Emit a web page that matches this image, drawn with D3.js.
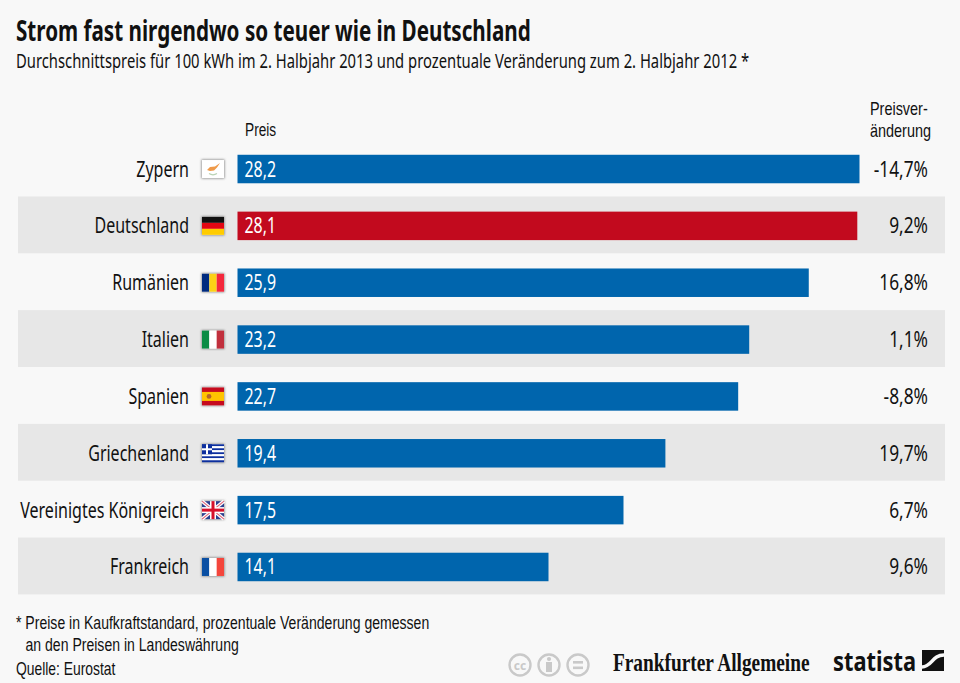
<!DOCTYPE html>
<html lang="de">
<head>
<meta charset="utf-8">
<script src="https://cdn.jsdelivr.net/npm/d3@7"></script>
<style>
  html, body { margin: 0; padding: 0; background: #f8f8f8; }
  svg { display: block; }
  text { font-family: "Noto Sans", sans-serif; fill: #111; }
</style>
</head>
<body>
<div id="chart"></div>
<script>
const countries = ['Zypern', 'Deutschland', 'Rumänien', 'Italien', 'Spanien', 'Griechenland', 'Vereinigtes Königreich', 'Frankreich'];
const prices = [28.2, 28.1, 25.9, 23.2, 22.7, 19.4, 17.5, 14.1];
const changes = ['-14,7%', '9,2%', '16,8%', '1,1%', '-8,8%', '19,7%', '6,7%', '9,6%'];
const highlighted = 'Deutschland';

const title = 'Strom fast nirgendwo so teuer wie in Deutschland';
const subtitle = 'Durchschnittspreis für 100 kWh im 2. Halbjahr 2013 und prozentuale Veränderung zum 2. Halbjahr 2012 *';
const footnotes = ['* Preise in Kaufkraftstandard, prozentuale Veränderung gemessen', 'an den Preisen in Landeswährung'];
const source = 'Quelle: Eurostat';

const width = 960;
const height = 683;

const svg = d3.select('#chart')
  .append('svg')
  .attr('width', width)
  .attr('height', height);

svg.append('rect')
  .attr('width', width)
  .attr('height', height)
  .attr('fill', '#f8f8f8');

// the original type is a condensed face, so squeeze the installed one horizontally
const addText = (txt, x, y, size, factor, anchor = 'start', weight = 400) =>
  svg.append('text')
    .attr('transform', `translate(${x},${y}) scale(${factor},1)`)
    .attr('text-anchor', anchor)
    .style('font-size', `${size}px`)
    .style('font-weight', weight)
    .text(txt);

// tightly set two-line notes need a face with a shorter line box
const addNote = (txt, x, y, factor) =>
  addText(txt, x, y, 18.5, factor).style('font-family', '"Liberation Sans", sans-serif');

// Scales
const x = d3.scaleLinear().domain([0, 28.2]).range([237.5, 859.5]);
const y = d3.scaleBand().domain(countries).range([139.6, 594.4]);
const barHeight = 28.5;
const barTop = d => y(d) + (y.bandwidth() - barHeight) / 2 + 1;

// Alternating row backgrounds
svg.append('g')
  .selectAll('rect')
  .data(countries.filter((d, i) => i % 2 === 1))
  .join('rect')
  .attr('x', 18)
  .attr('y', d => y(d))
  .attr('width', 927)
  .attr('height', y.bandwidth())
  .attr('fill', '#e7e7e7');

// Bars
svg.append('g')
  .selectAll('rect')
  .data(countries)
  .join('rect')
  .attr('x', x(0))
  .attr('y', barTop)
  .attr('width', (d, i) => x(prices[i]) - x(0))
  .attr('height', barHeight)
  .attr('fill', d => d === highlighted ? '#c20a1e' : '#0065ad');

// Labels in each row
countries.forEach((d, i) => {
  const mid = barTop(d) + barHeight / 2 + 7.5;
  addText(d, 189, mid, 22.5, 0.712, 'end');
  addText(String(prices[i]).replace('.', ','), 244.5, mid, 22.5, 0.707).style('fill', '#fff');
  addText(changes[i], 928, mid, 22.5, 0.77, 'end');
});

// Flags
const flagW = 22;
const flagH = 18;
const stripes = {
  'Deutschland': { dir: 'h', colors: ['#111111', '#e30613', '#ffcc00'] },
  'Rumänien': { dir: 'v', colors: ['#002b7f', '#fcd116', '#f4283c'] },
  'Italien': { dir: 'v', colors: ['#0b8c45', '#ffffff', '#c1303d'] },
  'Frankreich': { dir: 'v', colors: ['#0a4fa3', '#ffffff', '#f4463c'] }
};

const flags = svg.append('g');
const defs = svg.append('defs');
const blur = defs.append('filter').attr('id', 'flag-shadow');
blur.append('feGaussianBlur').attr('stdDeviation', 1.2);

countries.forEach(d => {
  const fx = 202;
  const fy = barTop(d) + barHeight / 2 - flagH / 2;
  const flag = flags.append('g').attr('transform', `translate(${fx},${fy})`);

  flag.append('rect')
    .attr('x', -0.5).attr('y', -0.5)
    .attr('width', flagW + 1).attr('height', flagH + 1)
    .attr('fill', '#888')
    .attr('filter', 'url(#flag-shadow)');
  flag.append('rect')
    .attr('width', flagW).attr('height', flagH)
    .attr('fill', '#fff');

  if (stripes[d]) {
    const { dir, colors } = stripes[d];
    colors.forEach((c, i) => {
      flag.append('rect')
        .attr('x', dir === 'v' ? i * flagW / 3 : 0)
        .attr('y', dir === 'h' ? i * flagH / 3 : 0)
        .attr('width', dir === 'v' ? flagW / 3 : flagW)
        .attr('height', dir === 'h' ? flagH / 3 : flagH)
        .attr('fill', c);
    });
  } else if (d === 'Zypern') {
    flag.append('path')
      .attr('d', 'M5 10 L8 7 L13 6.5 L18 3 L15 7.5 L12 10.5 L8 11 Z')
      .attr('fill', '#ef9a4a');
    flag.append('path')
      .attr('d', 'M7 13.5 Q11 16 15 13.5')
      .attr('fill', 'none')
      .attr('stroke', '#b9d3b4')
      .attr('stroke-width', 1.2);
  } else if (d === 'Spanien') {
    flag.append('rect').attr('width', flagW).attr('height', flagH).attr('fill', '#c60b1e');
    flag.append('rect').attr('y', 4.5).attr('width', flagW).attr('height', 9).attr('fill', '#ffc400');
    flag.append('circle').attr('cx', 7).attr('cy', 9).attr('r', 2.4).attr('fill', '#b5652a');
  } else if (d === 'Griechenland') {
    d3.range(9).forEach(i => {
      flag.append('rect')
        .attr('y', i * flagH / 9)
        .attr('width', flagW)
        .attr('height', flagH / 9)
        .attr('fill', i % 2 === 0 ? '#0d2f9e' : '#fff');
    });
    flag.append('rect').attr('width', 10).attr('height', 10).attr('fill', '#0d2f9e');
    flag.append('rect').attr('x', 4).attr('width', 2).attr('height', 10).attr('fill', '#fff');
    flag.append('rect').attr('y', 4).attr('width', 10).attr('height', 2).attr('fill', '#fff');
  } else if (d === 'Vereinigtes Königreich') {
    flag.append('rect').attr('width', flagW).attr('height', flagH).attr('fill', '#2a3f8f');
    [[0, 0, flagW, flagH], [flagW, 0, 0, flagH]].forEach(([x1, y1, x2, y2]) => {
      flag.append('line').attr('x1', x1).attr('y1', y1).attr('x2', x2).attr('y2', y2)
        .attr('stroke', '#fff').attr('stroke-width', 3.5);
      flag.append('line').attr('x1', x1).attr('y1', y1).attr('x2', x2).attr('y2', y2)
        .attr('stroke', '#e0657a').attr('stroke-width', 1.2);
    });
    flag.append('rect').attr('x', 8).attr('width', 6).attr('height', flagH).attr('fill', '#fff');
    flag.append('rect').attr('y', 6).attr('width', flagW).attr('height', 6).attr('fill', '#fff');
    flag.append('rect').attr('x', 9.5).attr('width', 3).attr('height', flagH).attr('fill', '#d7102b');
    flag.append('rect').attr('y', 7.5).attr('width', flagW).attr('height', 3).attr('fill', '#d7102b');
  }
});

// Header
addText(title, 16, 41, 29, 0.712, 'start', 700);
addText(subtitle, 16, 68, 20, 0.74);
addNote('Preis', 245, 136, 0.74);
addNote('Preisver-', 870, 115, 0.78);
addNote('änderung', 870, 137, 0.78);

// Footer
addNote(footnotes[0], 16, 629, 0.76);
addNote(footnotes[1], 25.5, 651, 0.76);
addNote(source, 16, 675, 0.75);

// Licence icons
const ccGrey = '#c9c9c9';
[520, 549, 578].forEach((cx, i) => {
  svg.append('circle')
    .attr('cx', cx).attr('cy', 665).attr('r', 10.5)
    .attr('fill', 'none').attr('stroke', ccGrey).attr('stroke-width', 2.4);
  if (i === 0) {
    svg.append('text')
      .attr('x', cx).attr('y', 669.5)
      .attr('text-anchor', 'middle')
      .style('font-size', '12px').style('font-weight', 700).style('fill', ccGrey)
      .text('cc');
  } else if (i === 1) {
    svg.append('circle').attr('cx', cx).attr('cy', 659).attr('r', 2.1).attr('fill', ccGrey);
    svg.append('rect').attr('x', cx - 3).attr('y', 662).attr('width', 6).attr('height', 10).attr('fill', ccGrey);
  } else {
    svg.append('rect').attr('x', cx - 5).attr('y', 661).attr('width', 10).attr('height', 2.6).attr('fill', ccGrey);
    svg.append('rect').attr('x', cx - 5).attr('y', 666.5).attr('width', 10).attr('height', 2.6).attr('fill', ccGrey);
  }
});

// Publisher marks
addText('Frankfurter Allgemeine', 613, 671, 25, 0.773, 'start', 700)
  .style('font-family', '"Liberation Serif", serif');
addText('statista', 833, 671, 27, 0.81, 'start', 700);

svg.append('rect').attr('x', 922).attr('y', 650).attr('width', 22).attr('height', 21).attr('fill', '#111');
svg.append('path')
  .attr('d', 'M922 667 C932 667 932 655 944 655')
  .attr('fill', 'none')
  .attr('stroke', '#f8f8f8')
  .attr('stroke-width', 3.5);
</script>
</body>
</html>
